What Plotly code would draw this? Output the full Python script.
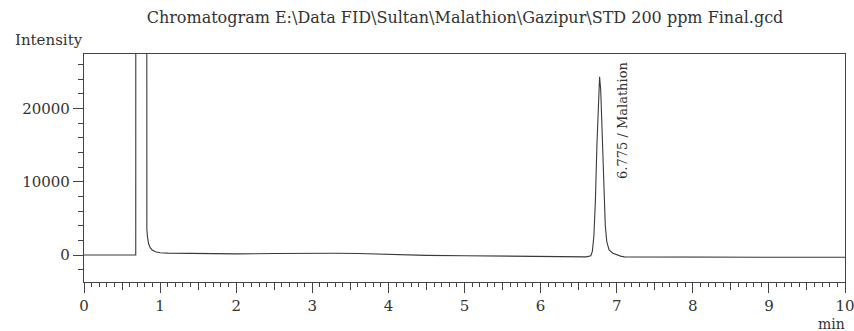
import plotly.graph_objects as go

# Retention time (min) and detector intensity of the FID trace
time_min = [
    0.00, 0.30, 0.675, 0.680, 0.686, 0.750, 0.815, 0.822, 0.826, 0.835,
    0.850, 0.870, 0.900, 0.950, 1.00, 1.10, 1.50, 2.00, 2.50, 3.00,
    3.30, 3.60, 4.00, 4.50, 5.00, 5.50, 6.00, 6.50, 6.60, 6.66,
    6.68, 6.70, 6.72, 6.74, 6.76, 6.775, 6.79, 6.81, 6.83, 6.85,
    6.87, 6.90, 6.95, 7.00, 7.05, 7.10, 7.50, 8.00, 9.00, 10.00,
]
intensity = [
    0, 0, 0, 0, 400000, 900000, 400000, 10000, 3500, 2400,
    1500, 1000, 650, 420, 320, 260, 200, 150, 200, 280,
    250, 200, 50, -50, -100, -150, -200, -250, -250, -100,
    500, 2550, 7350, 14950, 22000, 24300, 22500, 16000, 9000, 4000,
    1800, 700, 250, 0, -150, -250, -280, -300, -300, -300,
]

peak_time = 6.775
peak_height = 24300
peak_name = "Malathion"

x_major = [0, 1, 2, 3, 4, 5, 6, 7, 8, 9, 10]
x_half = [0.5, 1.5, 2.5, 3.5, 4.5, 5.5, 6.5, 7.5, 8.5, 9.5]
y_major = [0, 10000, 20000]

title_text = "Chromatogram E:\\Data FID\\Sultan\\Malathion\\Gazipur\\STD 200 ppm Final.gcd"

FONT = "DejaVu Serif"
INK = "#333333"
AXIS = "#444444"

fig = go.Figure()
fig.add_trace(go.Scatter(
    x=time_min, y=intensity, mode="lines",
    line=dict(color="#3a3a3a", width=1.1),
    hoverinfo="skip", showlegend=False,
))
# invisible trace so the secondary x axis (half-minute ticks) is drawn
fig.add_trace(go.Scatter(x=[0, 10], y=[0, 0], xaxis="x2", mode="lines",
                         line=dict(width=0), hoverinfo="skip", showlegend=False))

fig.update_layout(
    width=854, height=331,
    margin=dict(l=84, r=9, t=54, b=49, autoexpand=False),
    paper_bgcolor="white", plot_bgcolor="white",
    font=dict(family=FONT, size=15, color=INK),
    xaxis=dict(
        range=[0, 10], showgrid=False, zeroline=False, automargin=False,
        showline=True, linecolor=AXIS, linewidth=1.3, mirror=True,
        tickmode="array", tickvals=x_major, ticktext=[str(v) for v in x_major],
        ticks="outside", ticklen=10, tickwidth=1.2, tickcolor=AXIS,
        ticklabeloverflow="allow",
        tickfont=dict(family=FONT, size=15, color=INK),
        minor=dict(dtick=0.1, tick0=0, ticks="outside", ticklen=4,
                   tickwidth=1, tickcolor=AXIS, showgrid=False),
    ),
    xaxis2=dict(
        range=[0, 10], overlaying="x", side="bottom", anchor="y",
        showgrid=False, zeroline=False, showline=False, automargin=False,
        tickmode="array", tickvals=x_half, showticklabels=False,
        ticks="outside", ticklen=7, tickwidth=1, tickcolor=AXIS,
    ),
    yaxis=dict(
        range=[-3680, 27420], showgrid=False, zeroline=False, automargin=False,
        showline=True, linecolor=AXIS, linewidth=1.3, mirror=True,
        tickmode="array", tickvals=y_major, ticktext=[str(v) for v in y_major],
        ticks="outside", ticklen=10, tickwidth=1.2, tickcolor=AXIS,
        tickfont=dict(family=FONT, size=15, color=INK),
        minor=dict(dtick=2000, tick0=0, ticks="outside", ticklen=5,
                   tickwidth=1, tickcolor=AXIS, showgrid=False),
    ),
    title=dict(
        text=title_text, x=465 / 854, xanchor="center",
        y=1 - 17 / 331, yanchor="middle", yref="container",
        font=dict(family=FONT, size=16, color=INK),
    ),
)

fig.add_annotation(
    text="Intensity", xref="paper", yref="paper",
    x=-71 / 761, y=(282 - 40) / 228, xanchor="left", yanchor="middle",
    showarrow=False, font=dict(family=FONT, size=15, color=INK),
)
fig.add_annotation(
    text="min", xref="paper", yref="paper",
    x=1.002, y=-(324 - 282) / 228, xanchor="right", yanchor="middle",
    showarrow=False, font=dict(family=FONT, size=14, color=INK),
)
fig.add_annotation(
    text=f"{peak_time:.3f} / {peak_name}", x=peak_time, y=peak_height,
    xanchor="center", yanchor="top", xshift=23, yshift=17,
    textangle=-90, showarrow=False,
    font=dict(family=FONT, size=13, color=INK),
)

fig.write_html("out.html")
